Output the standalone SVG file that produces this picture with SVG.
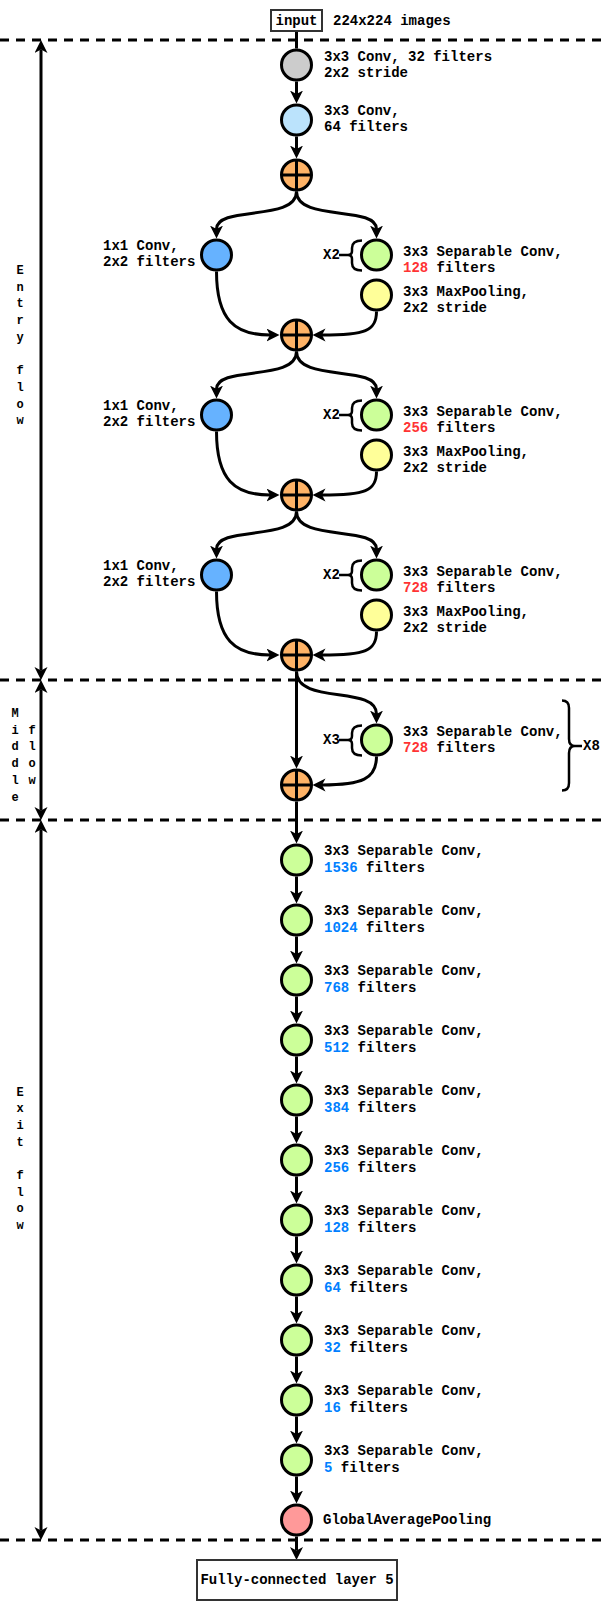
<svg xmlns="http://www.w3.org/2000/svg" width="604" height="1602" viewBox="0 0 604 1602">
<defs>
<style>
text{font-family:"Liberation Mono","Courier New",monospace;font-weight:bold;font-size:14px;fill:#000}
.v{font-size:12px;text-anchor:middle}
.red{fill:#FF3333}
.blu{fill:#007FFF}
.c{stroke:#000;stroke-width:3}
.gray{fill:#CCCCCC}
.lb{fill:#BBE3FC}
.or{fill:#FFB366}
.bl{fill:#66B2FF}
.gr{fill:#CCFF99}
.ye{fill:#FFFF99}
.rd{fill:#FF9999}
.ln{fill:none;stroke:#000;stroke-width:3}
.ar{fill:none;stroke:#000;stroke-width:3;marker-end:url(#ah)}
.da{fill:none;stroke:#000;stroke-width:3;stroke-dasharray:9 7}
.br{fill:none;stroke:#000;stroke-width:2.5}
.box{fill:#fff;stroke:#333;stroke-width:2}
</style>
<marker id="ah" markerUnits="userSpaceOnUse" markerWidth="14" markerHeight="14" refX="3.5" refY="6.5" orient="auto-start-reverse">
<path d="M0,0 L13,6.5 L0,13 L3.5,6.5 Z" fill="#000"/>
</marker>
<g id="addsym">
<circle r="15" class="c or"/>
<path d="M-15,0 H15 M0,-15 V15" stroke="#000" stroke-width="3"/>
</g>
</defs>
<rect width="604" height="1602" fill="#fff"/>

<g id="dividers">
<path class="da" d="M0,40 H604 M0,680 H604 M0,820 H604 M0,1540 H604"/>
</g>

<g id="section-arrows">
<path class="ar" style="marker-start:url(#ah)" d="M41,49.5 V670.5"/>
<path class="ar" style="marker-start:url(#ah)" d="M41,689.5 V810.5"/>
<path class="ar" style="marker-start:url(#ah)" d="M41,829.5 V1530.5"/>
<g id="entry-label">
<text class="v" x="20" y="274">E</text><text class="v" x="20" y="290.7">n</text><text class="v" x="20" y="307.4">t</text><text class="v" x="20" y="324.1">r</text><text class="v" x="20" y="340.8">y</text>
<text class="v" x="20" y="374.2">f</text><text class="v" x="20" y="390.9">l</text><text class="v" x="20" y="407.6">o</text><text class="v" x="20" y="424.3">w</text>
</g>
<g id="middle-label">
<text class="v" x="15" y="717">M</text><text class="v" x="15" y="733.7">i</text><text class="v" x="15" y="750.4">d</text><text class="v" x="15" y="767.1">d</text><text class="v" x="15" y="783.8">l</text><text class="v" x="15" y="800.5">e</text>
<text class="v" x="32" y="733.7">f</text><text class="v" x="32" y="750.4">l</text><text class="v" x="32" y="767.1">o</text><text class="v" x="32" y="783.8">w</text>
</g>
<g id="exit-label">
<text class="v" x="20" y="1095.5">E</text><text class="v" x="20" y="1112.2">x</text><text class="v" x="20" y="1128.9">i</text><text class="v" x="20" y="1145.6">t</text>
<text class="v" x="20" y="1179">f</text><text class="v" x="20" y="1195.7">l</text><text class="v" x="20" y="1212.4">o</text><text class="v" x="20" y="1229.1">w</text>
</g>
</g>

<g id="connectors">
<path class="ln" d="M296.5,31 V48.5"/>
<path class="ar" d="M296.5,81.5 V94"/>
<path class="ar" d="M296.5,136.5 V149"/>
<!-- block 1 -->
<path class="ar" d="M296.5,191.5 C296.5,222 216.5,205 216.5,229"/>
<path class="ar" d="M296.5,191.5 C296.5,222 376.5,205 376.5,229"/>
<path class="ar" d="M216.5,271.5 C216.5,320 235,335 270,335"/>
<path class="ar" d="M376.5,311.5 C376.5,331 365,335 322,335"/>
<!-- block 2 -->
<path class="ar" d="M296.5,351.5 C296.5,382 216.5,365 216.5,389"/>
<path class="ar" d="M296.5,351.5 C296.5,382 376.5,365 376.5,389"/>
<path class="ar" d="M216.5,431.5 C216.5,480 235,495 270,495"/>
<path class="ar" d="M376.5,471.5 C376.5,491 365,495 322,495"/>
<!-- block 3 -->
<path class="ar" d="M296.5,511.5 C296.5,542 216.5,525 216.5,549"/>
<path class="ar" d="M296.5,511.5 C296.5,542 376.5,525 376.5,549"/>
<path class="ar" d="M216.5,591.5 C216.5,640 235,655 270,655"/>
<path class="ar" d="M376.5,631.5 C376.5,651 365,655 322,655"/>
<!-- middle -->
<path class="ar" d="M296.5,671.5 V759"/>
<path class="ar" d="M296.5,671.5 C296.5,705 376.5,685 376.5,714"/>
<path class="ar" d="M376.5,756.5 C376.5,779 362,785 322,785"/>
<!-- exit -->
<path class="ar" d="M296.5,801.5 V834"/>
<path class="ar" d="M296.5,876.5 V894"/>
<path class="ar" d="M296.5,936.5 V954"/>
<path class="ar" d="M296.5,996.5 V1014"/>
<path class="ar" d="M296.5,1056.5 V1074"/>
<path class="ar" d="M296.5,1116.5 V1134"/>
<path class="ar" d="M296.5,1176.5 V1194"/>
<path class="ar" d="M296.5,1236.5 V1254"/>
<path class="ar" d="M296.5,1296.5 V1314"/>
<path class="ar" d="M296.5,1356.5 V1374"/>
<path class="ar" d="M296.5,1416.5 V1434"/>
<path class="ar" d="M296.5,1476.5 V1494"/>
<path class="ar" d="M296.5,1536.5 V1550.5"/>
</g>

<g id="input">
<rect class="box" x="271" y="10" width="51" height="21"/>
<text x="296.5" y="25" text-anchor="middle">input</text>
<text x="333" y="25">224x224 images</text>
</g>

<g id="conv1">
<circle cx="296.5" cy="65" r="15" class="c gray"/>
<text x="324" y="61">3x3 Conv, 32 filters</text>
<text x="324" y="77">2x2 stride</text>
</g>
<g id="conv2">
<circle cx="296.5" cy="120" r="15" class="c lb"/>
<text x="324" y="115">3x3 Conv,</text>
<text x="324" y="131">64 filters</text>
</g>
<g id="add1"><use href="#addsym" x="296.5" y="175"/></g>

<g id="b1-res">
<circle cx="216.5" cy="255" r="15" class="c bl"/>
<text x="103" y="250">1x1 Conv,</text>
<text x="103" y="266">2x2 filters</text>
</g>
<g id="b1-sep">
<circle cx="376.5" cy="255" r="15" class="c gr"/>
<text x="323" y="259">X2</text>
<path class="br" d="M339,255 H348 M362,240.5 Q352,240.5 352,248 V251 Q352,255 348,255 Q352,255 352,259 V263 Q352,270.5 362,270.5"/>
<text x="403" y="256">3x3 Separable Conv,</text>
<text x="403" y="272"><tspan class="red">128</tspan> filters</text>
</g>
<g id="b1-pool">
<circle cx="376.5" cy="295" r="15" class="c ye"/>
<text x="403" y="296">3x3 MaxPooling,</text>
<text x="403" y="312">2x2 stride</text>
</g>
<g id="add2"><use href="#addsym" x="296.5" y="335"/></g>

<g id="b2-res">
<circle cx="216.5" cy="415" r="15" class="c bl"/>
<text x="103" y="410">1x1 Conv,</text>
<text x="103" y="426">2x2 filters</text>
</g>
<g id="b2-sep">
<circle cx="376.5" cy="415" r="15" class="c gr"/>
<text x="323" y="419">X2</text>
<path class="br" d="M339,415 H348 M362,400.5 Q352,400.5 352,408 V411 Q352,415 348,415 Q352,415 352,419 V423 Q352,430.5 362,430.5"/>
<text x="403" y="416">3x3 Separable Conv,</text>
<text x="403" y="432"><tspan class="red">256</tspan> filters</text>
</g>
<g id="b2-pool">
<circle cx="376.5" cy="455" r="15" class="c ye"/>
<text x="403" y="456">3x3 MaxPooling,</text>
<text x="403" y="472">2x2 stride</text>
</g>
<g id="add3"><use href="#addsym" x="296.5" y="495"/></g>

<g id="b3-res">
<circle cx="216.5" cy="575" r="15" class="c bl"/>
<text x="103" y="570">1x1 Conv,</text>
<text x="103" y="586">2x2 filters</text>
</g>
<g id="b3-sep">
<circle cx="376.5" cy="575" r="15" class="c gr"/>
<text x="323" y="579">X2</text>
<path class="br" d="M339,575 H348 M362,560.5 Q352,560.5 352,568 V571 Q352,575 348,575 Q352,575 352,579 V583 Q352,590.5 362,590.5"/>
<text x="403" y="576">3x3 Separable Conv,</text>
<text x="403" y="592"><tspan class="red">728</tspan> filters</text>
</g>
<g id="b3-pool">
<circle cx="376.5" cy="615" r="15" class="c ye"/>
<text x="403" y="616">3x3 MaxPooling,</text>
<text x="403" y="632">2x2 stride</text>
</g>
<g id="add4"><use href="#addsym" x="296.5" y="655"/></g>

<g id="mid-sep">
<circle cx="376.5" cy="740" r="15" class="c gr"/>
<text x="323" y="744">X3</text>
<path class="br" d="M339,740 H348 M362,725.5 Q352,725.5 352,733 V736 Q352,740 348,740 Q352,740 352,744 V748 Q352,755.5 362,755.5"/>
<text x="403" y="736">3x3 Separable Conv,</text>
<text x="403" y="752"><tspan class="red">728</tspan> filters</text>
<path class="br" d="M562,700.5 Q569,700.5 569,708 V739 Q569,746 575,746 Q569,746 569,753 V783 Q569,790.5 562,790.5 M575,746 H582"/>
<text x="583" y="750">X8</text>
</g>
<g id="add5"><use href="#addsym" x="296.5" y="785"/></g>

<g id="e1"><circle cx="296.5" cy="860" r="15" class="c gr"/><text x="324" y="855">3x3 Separable Conv,</text><text x="324" y="872"><tspan class="blu">1536</tspan> filters</text></g>
<g id="e2"><circle cx="296.5" cy="920" r="15" class="c gr"/><text x="324" y="915">3x3 Separable Conv,</text><text x="324" y="932"><tspan class="blu">1024</tspan> filters</text></g>
<g id="e3"><circle cx="296.5" cy="980" r="15" class="c gr"/><text x="324" y="975">3x3 Separable Conv,</text><text x="324" y="992"><tspan class="blu">768</tspan> filters</text></g>
<g id="e4"><circle cx="296.5" cy="1040" r="15" class="c gr"/><text x="324" y="1035">3x3 Separable Conv,</text><text x="324" y="1052"><tspan class="blu">512</tspan> filters</text></g>
<g id="e5"><circle cx="296.5" cy="1100" r="15" class="c gr"/><text x="324" y="1095">3x3 Separable Conv,</text><text x="324" y="1112"><tspan class="blu">384</tspan> filters</text></g>
<g id="e6"><circle cx="296.5" cy="1160" r="15" class="c gr"/><text x="324" y="1155">3x3 Separable Conv,</text><text x="324" y="1172"><tspan class="blu">256</tspan> filters</text></g>
<g id="e7"><circle cx="296.5" cy="1220" r="15" class="c gr"/><text x="324" y="1215">3x3 Separable Conv,</text><text x="324" y="1232"><tspan class="blu">128</tspan> filters</text></g>
<g id="e8"><circle cx="296.5" cy="1280" r="15" class="c gr"/><text x="324" y="1275">3x3 Separable Conv,</text><text x="324" y="1292"><tspan class="blu">64</tspan> filters</text></g>
<g id="e9"><circle cx="296.5" cy="1340" r="15" class="c gr"/><text x="324" y="1335">3x3 Separable Conv,</text><text x="324" y="1352"><tspan class="blu">32</tspan> filters</text></g>
<g id="e10"><circle cx="296.5" cy="1400" r="15" class="c gr"/><text x="324" y="1395">3x3 Separable Conv,</text><text x="324" y="1412"><tspan class="blu">16</tspan> filters</text></g>
<g id="e11"><circle cx="296.5" cy="1460" r="15" class="c gr"/><text x="324" y="1455">3x3 Separable Conv,</text><text x="324" y="1472"><tspan class="blu">5</tspan> filters</text></g>
<g id="gap"><circle cx="296.5" cy="1520" r="15" class="c rd"/><text x="323" y="1524">GlobalAveragePooling</text></g>

<g id="fc">
<rect class="box" x="197" y="1560" width="200" height="40"/>
<text x="297" y="1584" text-anchor="middle">Fully-connected layer 5</text>
</g>
</svg>
